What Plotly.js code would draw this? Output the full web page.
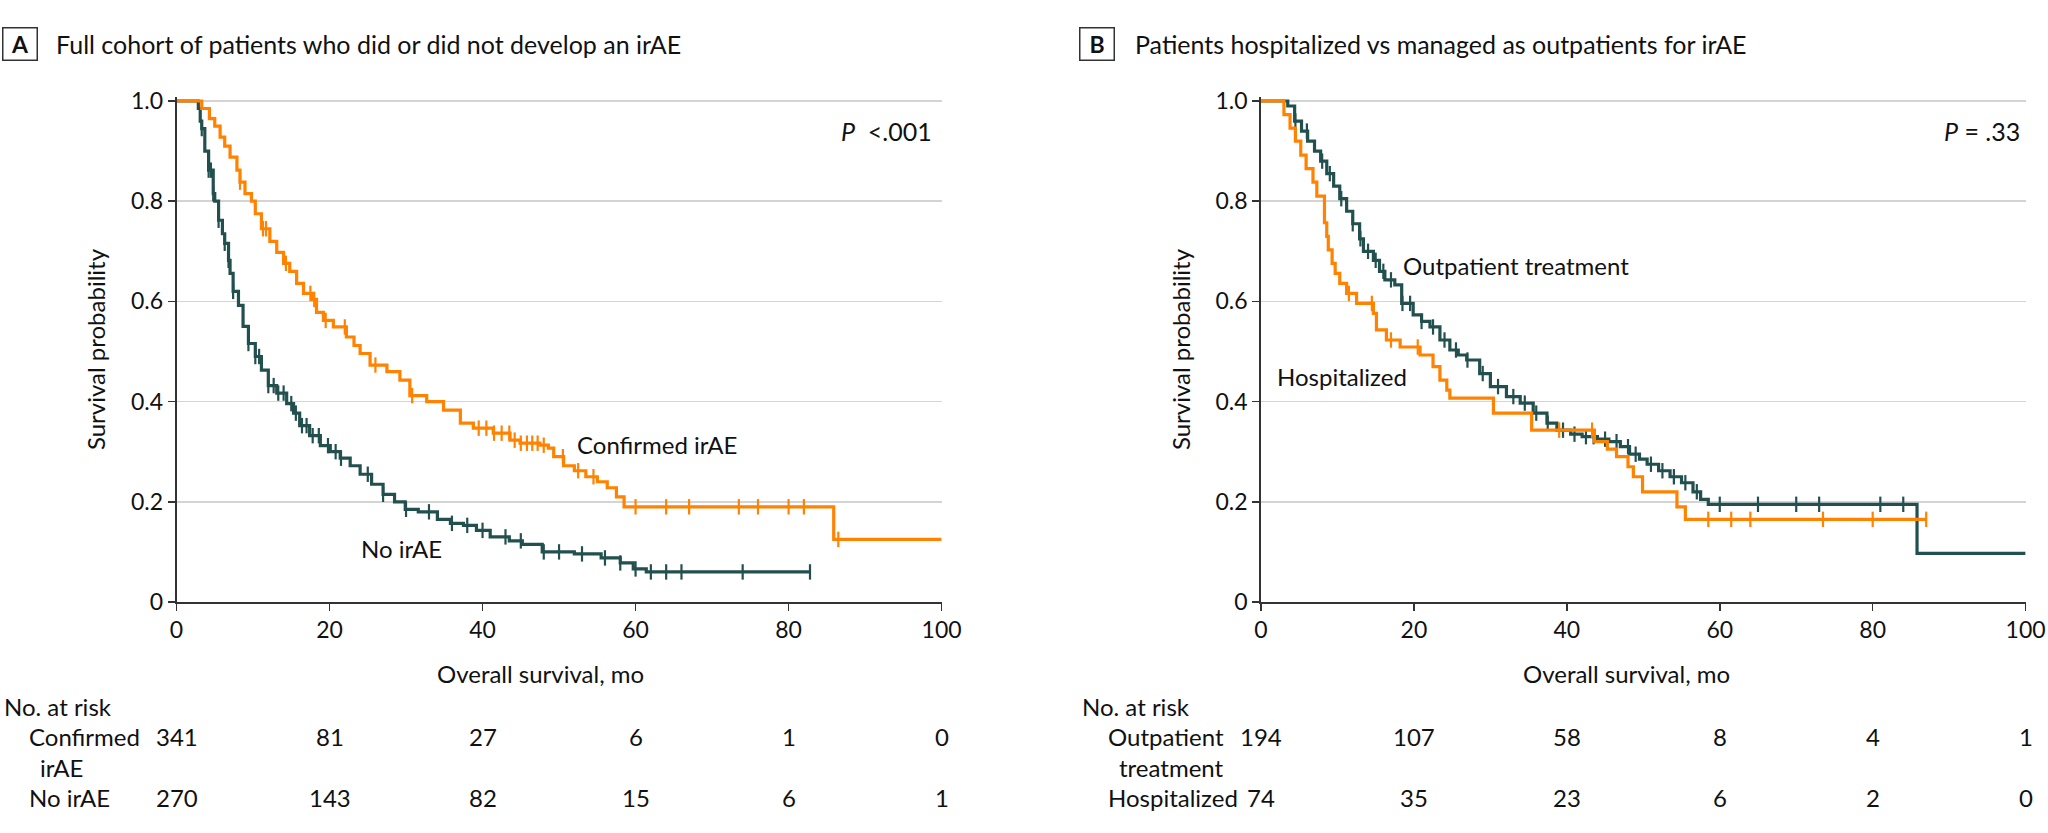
<!DOCTYPE html>
<html>
<head>
<meta charset="utf-8">
<script src="https://cdn.plot.ly/plotly-3.0.1.min.js"></script>
<style>html,body{margin:0;padding:0;background:#fff;}#chart{width:2048px;height:833px;}</style>
</head>
<body>
<div id="chart"></div>
<script>
// ---------- Panel A: Confirmed irAE ----------
const aIrAETime = [0,3.3,4.3,5.0,5.7,6.3,7.0,7.9,8.3,8.95,9.8,10.3,11.1,12.2,13.1,14.0,14.8,15.7,16.6,17.7,18.3,19.2,20.5,22.2,23.2,24.0,25.3,27.5,29.2,30.5,32.7,34.9,37.1,38.8,41.4,43.6,44.9,47.5,48.6,49.3,50.6,52.0,53.5,55.0,56.3,57.5,58.5,85.9,100];
const aIrAESurv = [1.0,0.985,0.965,0.95,0.928,0.91,0.888,0.862,0.838,0.815,0.80,0.775,0.745,0.72,0.698,0.676,0.66,0.636,0.616,0.604,0.578,0.562,0.549,0.529,0.512,0.496,0.473,0.46,0.443,0.412,0.40,0.383,0.357,0.347,0.337,0.323,0.317,0.313,0.307,0.29,0.272,0.262,0.25,0.24,0.228,0.21,0.19,0.125,0.125];
const aIrAECens = [8.3,11.3,11.7,14.3,17.5,18.0,19.5,22.0,26.0,30.8,39.5,40.5,41.5,42.5,43.5,44.2,45.0,45.8,46.5,47.2,48.0,50.5,52.5,54.5,60.0,64.0,67.0,73.5,76.0,80.0,82.0,86.5];

// ---------- Panel A: No irAE ----------
const aNoTime = [0,2.85,3.1,3.3,3.7,4.2,4.8,5.0,5.5,6.0,6.3,6.8,7.0,7.4,8.1,8.7,9.4,10.3,11.1,12.0,13.1,14.4,15.3,16.1,17.4,18.8,20.1,21.4,22.7,24.0,25.5,27.0,28.5,29.9,31.6,34.1,35.8,37.5,39.2,41.0,43.5,45.2,47.8,52.0,55.5,58.0,59.7,61.4,82.8];
const aNoSurv = [1.0,0.985,0.96,0.945,0.90,0.862,0.815,0.80,0.762,0.735,0.716,0.682,0.656,0.62,0.592,0.55,0.516,0.49,0.463,0.432,0.417,0.396,0.377,0.352,0.332,0.312,0.30,0.287,0.272,0.255,0.235,0.215,0.20,0.185,0.18,0.165,0.157,0.153,0.143,0.13,0.122,0.115,0.10,0.096,0.088,0.078,0.066,0.06,0.06];
const aNoCens = [3.3,4.2,4.5,4.8,5.5,6.3,6.8,7.4,9.4,10.3,10.8,12.0,12.7,13.3,14.0,15.0,15.6,16.4,17.0,17.8,18.6,19.8,20.8,21.5,25.0,27.0,30.0,33.0,36.0,38.0,40.0,43.0,45.0,48.0,50.0,53.0,56.0,58.0,60.0,62.0,64.0,66.0,74.0,82.8];

// ---------- Panel B: Outpatient treatment ----------
const bOutTime = [0,3.5,4.4,5.3,6.1,7.0,7.8,8.6,9.5,10.3,11.2,12.0,12.9,13.4,14.7,15.5,16.2,17.5,18.4,19.9,21.0,22.1,23.4,24.7,25.8,26.9,28.6,30.0,32.1,33.9,35.6,37.4,38.7,40.5,42.0,44.0,45.5,47.0,48.2,49.5,50.5,52.0,53.5,55.0,56.5,57.5,58.5,85.8,100];
const bOutSurv = [1.0,0.99,0.96,0.94,0.92,0.90,0.88,0.855,0.83,0.805,0.78,0.755,0.725,0.70,0.682,0.66,0.643,0.633,0.596,0.573,0.56,0.549,0.523,0.503,0.493,0.483,0.456,0.43,0.41,0.397,0.377,0.357,0.343,0.335,0.33,0.325,0.32,0.31,0.295,0.285,0.275,0.262,0.25,0.238,0.22,0.205,0.195,0.097,0.097];
const bOutCens = [4.5,6.0,8.0,9.0,10.5,12.0,13.0,14.0,15.0,16.0,17.0,18.5,19.5,21.0,22.5,24.0,25.5,27.0,29.0,31.0,33.0,34.5,36.0,37.5,39.5,41.0,42.5,43.5,45.0,46.5,48.0,49.0,51.0,52.5,54.0,55.5,57.0,60.0,65.0,70.0,73.0,81.0,84.0];

// ---------- Panel B: Hospitalized ----------
const bHospTime = [0,3.0,3.8,4.5,5.2,5.9,6.8,7.3,8.3,8.6,8.8,9.3,9.7,10.3,11.2,12.5,14.7,15.1,16.4,18.2,20.8,22.5,23.4,24.3,24.7,30.4,35.4,43.6,45.3,46.5,48.0,48.7,49.9,54.4,55.5,87.0];
const bHospSurv = [1.0,0.973,0.946,0.92,0.892,0.865,0.838,0.81,0.757,0.73,0.703,0.676,0.656,0.636,0.616,0.596,0.576,0.543,0.523,0.509,0.493,0.47,0.443,0.423,0.407,0.377,0.343,0.32,0.305,0.29,0.27,0.25,0.22,0.19,0.165,0.165];
const bHospCens = [11.5,14.5,17.0,20.5,39.0,43.3,58.5,61.5,64.0,73.5,80.0,87.0];

// ---------- Numbers at risk ----------
const riskTimes = [0,20,40,60,80,100];
const riskAIrAE = [341,81,27,6,1,0];
const riskANo = [270,143,82,15,6,1];
const riskBOut = [194,107,58,8,4,1];
const riskBHosp = [74,35,23,6,2,0];

const xTicks = [0,20,40,60,80,100];
const yTickVals = [0,0.2,0.4,0.6,0.8,1.0];
const yTickText = ['0','0.2','0.4','0.6','0.8','1.0'];

// ---------- styling ----------
const ORANGE = '#ff8200';
const TEAL = '#22504e';
const FONT = 'Lato, "Open Sans", "DejaVu Sans", sans-serif';
const W = 2048, H = 833;
const plotTop = 96.7, plotBottom = 602.2;
function py2paper(py){ return (plotBottom - py)/(plotBottom - plotTop); }
function px2paper(px){ return px / W; }
function stepAt(times, surv, t){
  let v = surv[0];
  for (let i=0;i<times.length;i++){ if (times[i] <= t) v = surv[i]; else break; }
  return v;
}

function curve(times, surv, color, xa, ya){
  return {x: times, y: surv, xaxis: xa, yaxis: ya, type:'scatter', mode:'lines',
    line:{shape:'hv', color: color, width:3.2}, hoverinfo:'skip', showlegend:false};
}
function cens(ct, times, surv, color, xa, ya){
  return {x: ct, y: ct.map(t => stepAt(times, surv, t)), xaxis: xa, yaxis: ya, type:'scatter', mode:'markers',
    marker:{symbol:'line-ns', size:11, color: color, line:{color: color, width:2.2}}, hoverinfo:'skip', showlegend:false, cliponaxis:false};
}

const data = [
  curve(aNoTime, aNoSurv, TEAL, 'x', 'y'),
  cens(aNoCens, aNoTime, aNoSurv, TEAL, 'x', 'y'),
  curve(aIrAETime, aIrAESurv, ORANGE, 'x', 'y'),
  cens(aIrAECens, aIrAETime, aIrAESurv, ORANGE, 'x', 'y'),
  curve(bOutTime, bOutSurv, TEAL, 'x2', 'y2'),
  cens(bOutCens, bOutTime, bOutSurv, TEAL, 'x2', 'y2'),
  curve(bHospTime, bHospSurv, ORANGE, 'x2', 'y2'),
  cens(bHospCens, bHospTime, bHospSurv, ORANGE, 'x2', 'y2')
];

function xax(domain, anchor){
  return {domain: domain, anchor: anchor, range:[0,100], tickvals: xTicks, ticks:'outside', ticklen:7, tickwidth:1.5, tickcolor:'#333',
    showline:true, linecolor:'#333', linewidth:1.8, showgrid:false, zeroline:false,
    tickfont:{family:FONT, size:23, color:'#111'}};
}
function yax(anchor){
  return {domain:[0,1], anchor: anchor, range:[0,1.008], tickvals: yTickVals, ticktext: yTickText, ticks:'outside', ticklen:7, tickwidth:1.5, tickcolor:'#333',
    showline:true, linecolor:'#333', linewidth:1.8, showgrid:true, gridcolor:'#d4d4d4', gridwidth:1.6, zeroline:false,
    tickfont:{family:FONT, size:23, color:'#111'},
    title:{text:'Survival probability', font:{family:FONT, size:24, color:'#111'}, standoff:18}};
}

const ann = [];
function txt(text, x, y, xref, yref, xanchor, extra){
  ann.push(Object.assign({text:text, x:x, y:y, xref:xref, yref:yref, xanchor:xanchor, yanchor:'middle', showarrow:false,
    font:{family:FONT, size:24, color:'#111'}}, extra||{}));
}
// panel headings
txt('<b>A</b>', px2paper(20), py2paper(44), 'paper', 'paper', 'center', {width:33, height:31, bordercolor:'#333', borderwidth:1.5, borderpad:0, font:{family:FONT, size:23, color:'#111'}});
txt('Full cohort of patients who did or did not develop an irAE', px2paper(54), py2paper(44), 'paper', 'paper', 'left', {font:{family:FONT, size:25, color:'#111'}});
txt('<b>B</b>', px2paper(1097), py2paper(44), 'paper', 'paper', 'center', {width:33, height:31, bordercolor:'#333', borderwidth:1.5, borderpad:0, font:{family:FONT, size:23, color:'#111'}});
txt('Patients hospitalized vs managed as outpatients for irAE', px2paper(1133), py2paper(44), 'paper', 'paper', 'left', {font:{family:FONT, size:25, color:'#111'}});
// x-axis titles
txt('Overall survival, mo', 47.6, py2paper(674), 'x', 'paper', 'center');
txt('Overall survival, mo', 47.8, py2paper(674), 'x2', 'paper', 'center');
// p values
txt('<i>P</i>&nbsp; &lt;.001', 99.0, 0.94, 'x', 'y', 'right', {font:{family:FONT, size:25, color:'#111'}});
txt('<i>P</i>&nbsp;=&nbsp;.33', 99.5, 0.94, 'x2', 'y2', 'right', {font:{family:FONT, size:25, color:'#111'}});
// curve labels
txt('Confirmed irAE', 52.1, 0.315, 'x', 'y', 'left');
txt('No irAE', 23.9, 0.107, 'x', 'y', 'left');
txt('Outpatient treatment', 18.3, 0.672, 'x2', 'y2', 'left');
txt('Hospitalized', 1.8, 0.45, 'x2', 'y2', 'left');
// risk tables
txt('No. at risk', px2paper(2), py2paper(706.7), 'paper', 'paper', 'left');
txt('Confirmed', px2paper(27), py2paper(736.7), 'paper', 'paper', 'left');
txt('irAE', px2paper(38), py2paper(768), 'paper', 'paper', 'left');
txt('No irAE', px2paper(27), py2paper(798), 'paper', 'paper', 'left');
txt('No. at risk', px2paper(1080), py2paper(706.7), 'paper', 'paper', 'left');
txt('Outpatient', px2paper(1106), py2paper(736.7), 'paper', 'paper', 'left');
txt('treatment', px2paper(1117), py2paper(768), 'paper', 'paper', 'left');
txt('Hospitalized', px2paper(1106), py2paper(798), 'paper', 'paper', 'left');
riskTimes.forEach((t,i) => {
  txt(String(riskAIrAE[i]), t, py2paper(736.7), 'x', 'paper', 'center');
  txt(String(riskANo[i]), t, py2paper(798), 'x', 'paper', 'center');
  txt(String(riskBOut[i]), t, py2paper(736.7), 'x2', 'paper', 'center');
  txt(String(riskBHosp[i]), t, py2paper(798), 'x2', 'paper', 'center');
});

const layout = {
  width: W, height: H,
  margin:{l:0, r:0, t:plotTop, b:H-plotBottom, pad:0},
  paper_bgcolor:'#fff', plot_bgcolor:'#fff',
  showlegend:false,
  xaxis: xax([176.5/W, 941.6/W], 'y'),
  yaxis: yax('x'),
  xaxis2: xax([1261/W, 2025.6/W], 'y2'),
  yaxis2: yax('x2'),
  annotations: ann
};

Plotly.newPlot('chart', data, layout, {staticPlot:true, displayModeBar:false});
</script>
</body>
</html>
